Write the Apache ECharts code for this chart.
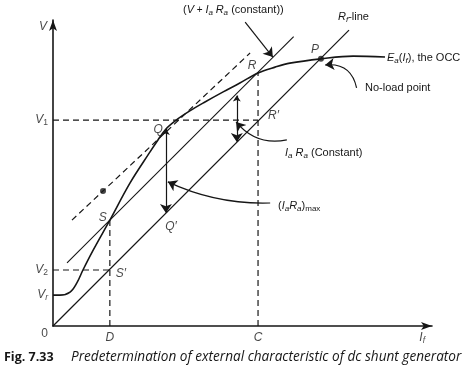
<!DOCTYPE html>
<html><head><meta charset="utf-8">
<script src="https://cdn.jsdelivr.net/npm/echarts@6/dist/echarts.min.js"></script>
<style>html,body{margin:0;padding:0;background:#fff}#c{width:474px;height:376px}</style>
</head><body><div id="c"></div>
<script>
// ---- data (If in arbitrary units 0..100, V in arbitrary units 0..100) ----
const OCC_IF = [0, 1.8, 4.5, 6.3, 7.9, 10.6, 15.0, 20.3, 25.6, 27.7, 29.8, 32.5, 36.1, 40.1, 44.9, 49.3, 54.1, 58.6, 62.5, 70.7, 79.2, 87.6];
const OCC_EA = [10.1, 10.1, 11.1, 14.1, 18.3, 24.8, 34.6, 46.7, 56.9, 60.8, 64.4, 67.3, 70.3, 73.2, 76.5, 79.4, 82.7, 84.6, 85.9, 87.3, 88.2, 87.9];
const RF_LINE_IF = [0, 78.1];
const RF_LINE_V = [0, 96.7];
const UPPER_LINE_IF = [3.7, 63.5];
const UPPER_LINE_V = [20.6, 94.6];
const TANGENT_IF = [5.0, 52.0];
const TANGENT_V = [34.6, 89.2];
const TANGENT_DOT = [13.2, 44.1];
const Y_TICK_NAMES = ['V1', 'V2', 'Vr'];
const Y_TICK_VALUES = [67.3, 18.3, 10.1];
const X_TICK_NAMES = ['D', 'C'];
const X_TICK_VALUES = [15.0, 54.1];
// named points
const POINT_NAMES = ['P', 'R', "R'", 'Q', "Q'", 'S', "S'"];
const POINT_IF = [70.7, 54.1, 54.1, 29.8, 29.8, 15.0, 15.0];
const POINT_V = [87.3, 82.7, 67.3, 64.4, 36.9, 34.6, 18.3];
// arrows
const QQ_ARROW = [[29.8, 64.4], [29.8, 36.9]];
const IARA_ARROW = [[48.5, 75.3], [48.5, 60.1]];
const LEAD_IARA = [[61.7, 60.8], [48.3, 66.7]];
const LEAD_IARAMAX = [[57.3, 40.2], [30.3, 47.1]];
const LEAD_NOLOAD = [[80.1, 77.8], [71.8, 85.3]];
const LEAD_VIARA = [[50.7, 99.3], [58.0, 87.9]];

const INK = '#161616';
const FONT = 'Liberation Sans';
const rich = {
  i: {fontFamily: FONT, fontStyle: 'italic', fontSize: 11, color: INK, lineHeight: 14},
  n: {fontFamily: FONT, fontSize: 11, color: INK, lineHeight: 14},
  t: {fontFamily: FONT, fontSize: 10, color: INK, lineHeight: 14},
  s: {fontFamily: FONT, fontStyle: 'italic', fontSize: 8, color: INK, lineHeight: 8, verticalAlign: 'bottom'},
  sn: {fontFamily: FONT, fontSize: 8, color: INK, lineHeight: 8, verticalAlign: 'bottom'},
  I: {fontFamily: FONT, fontStyle: 'italic', fontSize: 12, color: INK, lineHeight: 15},
  S: {fontFamily: FONT, fontStyle: 'italic', fontSize: 8.5, color: INK, lineHeight: 8, verticalAlign: 'bottom'},
  SN: {fontFamily: FONT, fontSize: 8.5, color: INK, lineHeight: 8, verticalAlign: 'bottom'},
  N: {fontFamily: FONT, fontSize: 12, color: INK}
};
function sub(name) {
  if (name.length === 1) return '{I|' + name + '}';
  if (name[1] === "'") return '{I|' + name[0] + '′}';
  const s = name.slice(1);
  return '{I|' + name[0] + '}' + (/\d/.test(s) ? '{SN|' + s + '}' : '{S|' + s + '}');
}
const zip = (a, b) => a.map((v, i) => [v, b[i]]);
const dash = {type: [6, 4], width: 1.2, color: INK};

const series = [];
series.push({type: 'line', data: zip(OCC_IF, OCC_EA), smooth: 0.35, symbol: 'none', lineStyle: {color: INK, width: 1.6}, z: 3});
series.push({type: 'line', data: zip(RF_LINE_IF, RF_LINE_V), symbol: 'none', lineStyle: {color: INK, width: 1.2}});
series.push({type: 'line', data: zip(UPPER_LINE_IF, UPPER_LINE_V), symbol: 'none', lineStyle: {color: INK, width: 1.1}});
series.push({type: 'line', data: zip(TANGENT_IF, TANGENT_V), symbol: 'none', lineStyle: dash});
// dashed projections
series.push({type: 'line', data: [[0, POINT_V[2]], [POINT_IF[2], POINT_V[2]]], symbol: 'none', lineStyle: dash});
series.push({type: 'line', data: [[0, POINT_V[6]], [POINT_IF[6], POINT_V[6]]], symbol: 'none', lineStyle: dash});
series.push({type: 'line', data: [[X_TICK_VALUES[0], 0], [POINT_IF[5], POINT_V[5]]], symbol: 'none', lineStyle: dash});
series.push({type: 'line', data: [[X_TICK_VALUES[1], 0], [POINT_IF[1], POINT_V[1]]], symbol: 'none', lineStyle: dash});
// dots
series.push({type: 'scatter', data: [TANGENT_DOT, [POINT_IF[0], POINT_V[0]]], symbolSize: 6, itemStyle: {color: INK}, z: 5});
// arrows
const arrowSeries = (coords, sym, curv) => ({
  type: 'lines', coordinateSystem: 'cartesian2d', symbol: sym, symbolSize: [6, 9],
  data: [{coords: coords, lineStyle: {curveness: curv}}],
  lineStyle: {color: INK, width: 1.2, opacity: 1}, z: 4
});
series.push(arrowSeries(QQ_ARROW, ['arrow', 'arrow'], 0));
series.push(arrowSeries(IARA_ARROW, ['arrow', 'arrow'], 0));
series.push(arrowSeries(LEAD_IARA, ['none', 'arrow'], 0.3));
series.push(arrowSeries(LEAD_IARAMAX, ['none', 'arrow'], 0.12));
series.push(arrowSeries(LEAD_NOLOAD, ['none', 'arrow'], -0.45));
series.push(arrowSeries(LEAD_VIARA, ['none', 'arrow'], 0));
// tick labels
const tickData = [];
Y_TICK_NAMES.forEach((n, i) => tickData.push({value: [0, Y_TICK_VALUES[i]], label: {formatter: sub(n), position: 'left', distance: 5}}));
X_TICK_NAMES.forEach((n, i) => tickData.push({value: [X_TICK_VALUES[i], 0], label: {formatter: sub(n), position: 'bottom', distance: 4}}));
tickData.push({value: [0, 0], label: {formatter: '{N|0}', position: 'left', distance: 5, offset: [0, 8]}});
tickData.push({value: [0, 100], label: {formatter: '{I|V}', position: 'left', distance: 6, offset: [0, 7]}});
tickData.push({value: [97.4, 0], label: {formatter: '{I|I}{S|f}', position: 'bottom', distance: 4}});
// point labels
const pLabelCfg = {
  'P': {position: 'top', distance: 2, offset: [-6, 0]},
  'R': {position: 'top', distance: 0, offset: [-6, 0]},
  "R'": {position: 'right', distance: 10, offset: [0, -4]},
  'Q': {position: 'left', distance: 3, offset: [0, 1]},
  "Q'": {position: 'bottom', distance: 6, offset: [5, 0]},
  'S': {position: 'left', distance: 3, offset: [0, -2]},
  "S'": {position: 'right', distance: 6, offset: [0, 4]}
};
POINT_NAMES.forEach((n, i) => tickData.push({value: [POINT_IF[i], POINT_V[i]], label: Object.assign({formatter: sub(n)}, pLabelCfg[n])}));
series.push({type: 'scatter', data: tickData, symbolSize: 0, silent: true, label: {show: true, rich: rich}, z: 6});

const chart = echarts.init(document.getElementById('c'), null, {renderer: 'canvas'});
const txt = (x, y, text) => ({type: 'text', x: x, y: y, style: {text: text, rich: rich, verticalAlign: 'middle', fill: INK}});
chart.setOption({
  animation: false,
  grid: {left: 53, right: 42, top: 20, bottom: 50},
  xAxis: {type: 'value', min: 0, max: 100, splitLine: {show: false}, axisTick: {show: false}, axisLabel: {show: false},
    axisLine: {lineStyle: {color: INK, width: 1.6}, symbol: ['none', 'arrow'], symbolSize: [6, 11]}},
  yAxis: {type: 'value', min: 0, max: 100, splitLine: {show: false}, axisTick: {show: false}, axisLabel: {show: false},
    axisLine: {lineStyle: {color: INK, width: 1.6}, symbol: ['none', 'arrow'], symbolSize: [6, 11]}},
  series: series,
  graphic: [
    txt(183, 10, '{n|(}{i|V}{t| + }{i|I}{s|a}{t| }{i|R}{s|a}{n| (constant))}'),
    txt(338, 17, '{i|R}{s|f}{n|-line}'),
    txt(387, 58, '{i|E}{s|a}{n|(}{i|I}{s|f}{n|), the OCC}'),
    txt(365, 88, '{n|No-load point}'),
    txt(285, 153, '{i|I}{s|a}{n| }{i|R}{s|a}{n| (Constant)}'),
    txt(278, 206, '{n|(}{i|I}{s|a}{i|R}{s|a}{n|)}{sn|max}'),
    {type: 'text', x: 4, y: 357, style: {verticalAlign: 'middle', text: 'Fig. 7.33', fill: INK,
      fontFamily: 'Open Sans', fontWeight: 'bold', fontSize: 12.5}},
    {type: 'text', x: 71, y: 357, style: {verticalAlign: 'middle', text: 'Predetermination of external characteristic of dc shunt generator', fill: INK,
      fontFamily: 'Open Sans', fontStyle: 'italic', fontSize: 13.6}}
  ]
});
</script></body></html>
